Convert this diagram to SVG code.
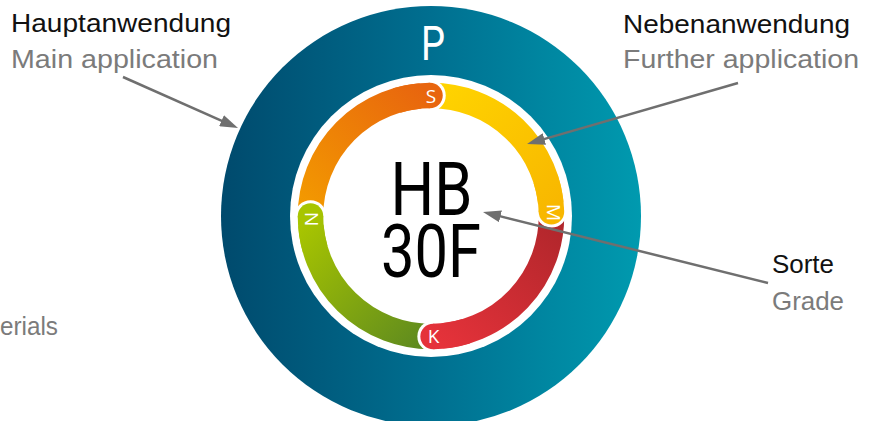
<svg xmlns="http://www.w3.org/2000/svg" width="874" height="421" viewBox="0 0 874 421">
  <style>
    .lbl { font-family: "Liberation Sans", Arial, sans-serif; font-size: 25px; }
    .de { fill: #111111; }
    .en { fill: #7b7b7b; }
    .band { fill: none; stroke-width: 25.5; stroke-linecap: butt; }
    .big { font-family: Roboto, "Liberation Sans", sans-serif; font-weight: 400; }
    .seg { font-family: "Open Sans", "Liberation Sans", sans-serif; font-size: 19px; fill: #ffffff; text-anchor: middle; }
    .conn { stroke: #6f6f6f; stroke-width: 2.5; fill: none; }
  </style>
  <defs>
    <linearGradient id="gOuter" gradientUnits="userSpaceOnUse" x1="221" y1="0" x2="641" y2="0">
      <stop offset="0" stop-color="#004a6d"/>
      <stop offset="0.5" stop-color="#006f90"/>
      <stop offset="1" stop-color="#009aaf"/>
    </linearGradient>
    <linearGradient id="gOrange" gradientUnits="userSpaceOnUse" x1="310" y1="216" x2="431" y2="95">
      <stop offset="0" stop-color="#f39a00"/>
      <stop offset="1" stop-color="#e8650e"/>
    </linearGradient>
    <linearGradient id="gYellow" gradientUnits="userSpaceOnUse" x1="431" y1="95" x2="552" y2="212">
      <stop offset="0" stop-color="#ffd400"/>
      <stop offset="1" stop-color="#f8b700"/>
    </linearGradient>
    <linearGradient id="gRed" gradientUnits="userSpaceOnUse" x1="552" y1="212" x2="433" y2="336">
      <stop offset="0" stop-color="#b0262b"/>
      <stop offset="1" stop-color="#e5323a"/>
    </linearGradient>
    <linearGradient id="gGreen" gradientUnits="userSpaceOnUse" x1="433" y1="336" x2="310" y2="216">
      <stop offset="0" stop-color="#5e8a1f"/>
      <stop offset="1" stop-color="#a8c500"/>
    </linearGradient>
    <marker id="arrow" markerUnits="userSpaceOnUse" markerWidth="18" markerHeight="12" refX="4" refY="6" orient="auto">
      <path d="M0,0 L18,6 L0,12 Z" fill="#6f6f6f"/>
    </marker>
  </defs>

  <g id="wheel">
    <circle cx="431" cy="216" r="210" fill="url(#gOuter)"/>
    <circle cx="431" cy="216" r="141" fill="#ffffff"/>
    <text class="big" x="433" y="60" font-size="49" fill="#ffffff" text-anchor="middle" textLength="24" lengthAdjust="spacingAndGlyphs">P</text>
  </g>

  <g id="segments">
    <path class="band" stroke="url(#gOrange)" d="M310.5 216 A120.5 120.5 0 0 1 430 95.5"/>
    <path class="band" stroke="url(#gYellow)" d="M430 95.5 A120.5 120.5 0 0 1 551.43 211.79"/>
    <path class="band" stroke="url(#gRed)" d="M551.43 211.79 A120.5 120.5 0 0 1 433.1 336.48"/>
    <path class="band" stroke="url(#gGreen)" d="M433.1 336.48 A120.5 120.5 0 0 1 310.5 216"/>
  </g>

  <g id="seg-S">
    <circle cx="430" cy="95.5" r="15.75" fill="#ffffff"/>
    <path class="band" stroke="url(#gOrange)" d="M396.78 100.46 A120.5 120.5 0 0 1 430 95.5"/>
    <circle cx="430" cy="95.5" r="12.75" fill="url(#gOrange)"/>
    <text class="seg" x="431" y="102.5">S</text>
  </g>
  <g id="seg-M">
    <circle cx="551.43" cy="211.79" r="15.75" fill="#ffffff"/>
    <path class="band" stroke="url(#gYellow)" d="M545.6 178.76 A120.5 120.5 0 0 1 551.43 211.79"/>
    <circle cx="551.43" cy="211.79" r="12.75" fill="url(#gYellow)"/>
    <text class="seg" transform="translate(553.5 212.5) rotate(90)" x="0" y="6.8">M</text>
  </g>
  <g id="seg-K">
    <circle cx="433.1" cy="336.48" r="15.75" fill="#ffffff"/>
    <path class="band" stroke="url(#gRed)" d="M466.23 331.23 A120.5 120.5 0 0 1 433.1 336.48"/>
    <circle cx="433.1" cy="336.48" r="12.75" fill="url(#gRed)"/>
    <text class="seg" x="433.5" y="342.8">K</text>
  </g>
  <g id="seg-N">
    <circle cx="310.5" cy="216" r="15.75" fill="#ffffff"/>
    <path class="band" stroke="url(#gGreen)" d="M315.17 249.21 A120.5 120.5 0 0 1 310.5 216"/>
    <circle cx="310.5" cy="216" r="12.75" fill="url(#gGreen)"/>
    <text class="seg" transform="translate(311.5 219) rotate(-90)" x="0" y="6.8">N</text>
  </g>

  <g id="grade-name">
    <text class="big" x="431.5" y="215" font-size="74.5" fill="#000000" text-anchor="middle" textLength="82" lengthAdjust="spacingAndGlyphs">HB</text>
    <text class="big" x="431" y="277" font-size="74.5" fill="#000000" text-anchor="middle" textLength="100" lengthAdjust="spacingAndGlyphs">30F</text>
  </g>

  <g id="label-main">
    <text class="lbl de" x="11" y="32" textLength="220" lengthAdjust="spacingAndGlyphs">Hauptanwendung</text>
    <text class="lbl en" x="11" y="68" textLength="207" lengthAdjust="spacingAndGlyphs">Main application</text>
  </g>
  <g id="label-further">
    <text class="lbl de" x="623" y="33" textLength="227" lengthAdjust="spacingAndGlyphs">Nebenanwendung</text>
    <text class="lbl en" x="623" y="68" textLength="236" lengthAdjust="spacingAndGlyphs">Further application</text>
  </g>
  <g id="label-grade">
    <text class="lbl de" x="772" y="273" textLength="62" lengthAdjust="spacingAndGlyphs">Sorte</text>
    <text class="lbl en" x="772" y="310" textLength="72" lengthAdjust="spacingAndGlyphs">Grade</text>
  </g>
  <g id="label-materials">
    <text class="lbl en" x="0" y="335" textLength="58" lengthAdjust="spacingAndGlyphs">erials</text>
  </g>

  <g id="connectors">
    <line class="conn" x1="123" y1="77" x2="225.2" y2="122.3" marker-end="url(#arrow)"/>
    <line class="conn" x1="738" y1="83" x2="540.5" y2="140.1" marker-end="url(#arrow)"/>
    <line class="conn" x1="768" y1="283" x2="496.6" y2="215.4" marker-end="url(#arrow)"/>
  </g>
</svg>
